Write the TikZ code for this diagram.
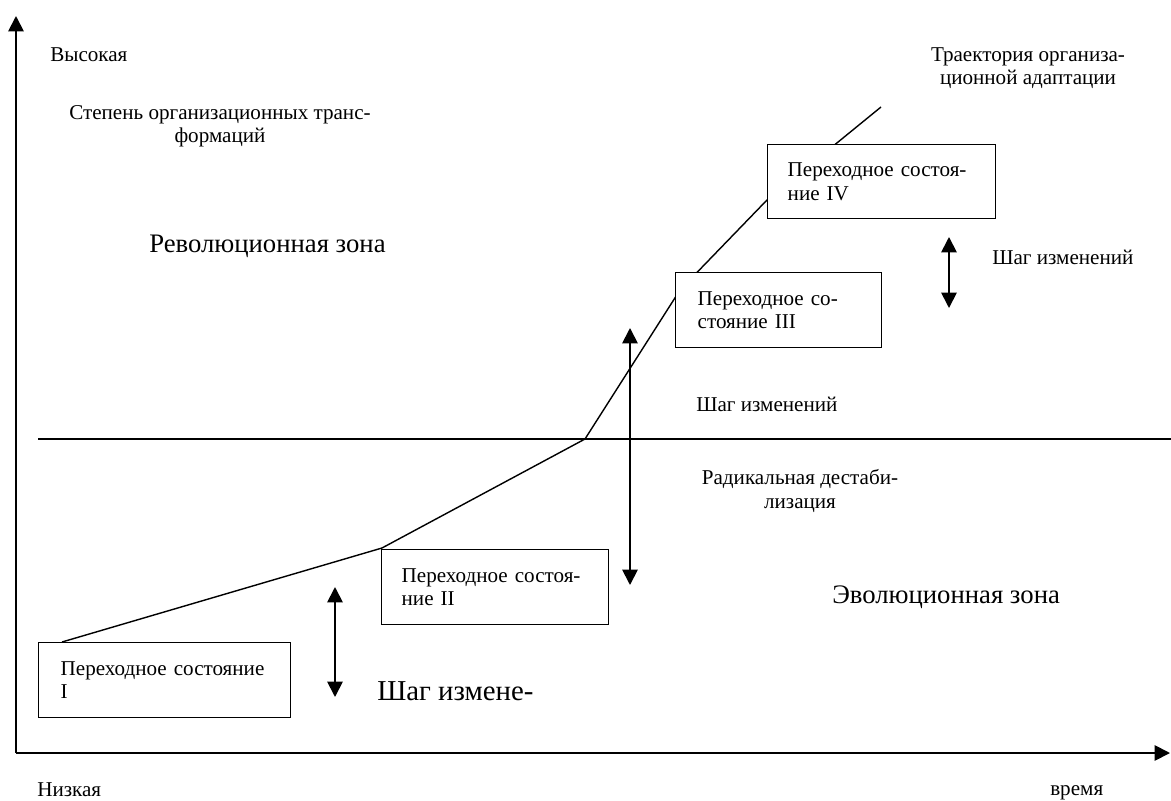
\documentclass[tikz,border=0pt]{standalone}
\usepackage{fontspec}
\setmainfont{Liberation Serif}
\usepackage{tikz}
\usetikzlibrary{arrows.meta,positioning}
\tikzstyle{state}     = [rectangle, draw=black, fill=white, line width=1pt, inner sep=0pt, anchor=north west, align=left, font=\fontsize{15}{16.7}\selectfont]
\tikzstyle{txt}       = [inner sep=0pt, anchor=base west, font=\fontsize{15}{16.7}\selectfont]
\tikzstyle{bigtxt}    = [inner sep=0pt, anchor=base west, font=\fontsize{19}{22}\selectfont]
\tikzstyle{axis}      = [line width=1.3pt, -{Triangle[length=11pt,width=11pt]}]
\tikzstyle{steparrow} = [line width=1.3pt, {Triangle[length=11pt,width=11pt]}-{Triangle[length=11pt,width=11pt]}]
\tikzstyle{track}     = [line width=1pt]

\begin{document}
\begin{tikzpicture}[x=0.025cm, y=-0.025cm]
		\useasboundingbox (0,0) rectangle (1171,801);

		\coordinate (origin) at (16,753);
		\coordinate (ytop) at (16,16);
		\coordinate (xend) at (1170,753);
		\coordinate (midwest) at (38,439);
		\coordinate (mideast) at (1171,439);

		\draw[axis] (origin) -- (ytop);
		\draw[axis] (origin) -- (xend);
		\draw[track] (midwest) -- (mideast);

		\coordinate (t0) at (62,642);
		\coordinate (t1) at (382,548);
		\coordinate (t2) at (585,439);
		\coordinate (t3) at (680,290);
		\coordinate (t4) at (767,200);
		\coordinate (t5) at (881,107);
		\draw[track] (t0) -- (t1) -- (t2) -- (t3) -- (t4) -- (t5);

		\node[state, minimum width=6.3cm, minimum height=1.875cm, text width=5.2cm] (stateI) at (38,642) {Переходное состояние\\I};
		\node[state, minimum width=5.675cm, minimum height=1.875cm, text width=4.675cm] (stateII) at (381,549) {Переходное состоя-\\ние II};
		\node[state, minimum width=5.15cm, minimum height=1.875cm, text width=4.05cm] (stateIII) at (675,272) {Переходное со-\\стояние III};
		\node[state, minimum width=5.7cm, minimum height=1.85cm, text width=4.7cm] (stateIV) at (767,144) {Переходное состоя-\\ние IV};

		\coordinate (s1a) at (335,587);
		\coordinate (s1b) at (335,697);
		\coordinate (s2a) at (630,328);
		\coordinate (s2b) at (630,585);
		\coordinate (s3a) at (949,237);
		\coordinate (s3b) at (949,308);
		\draw[steparrow] (s1a) -- (s1b);
		\draw[steparrow] (s2a) -- (s2b);
		\draw[steparrow] (s3a) -- (s3b);

		\node[txt] (high) at (50,62) {Высокая};
		\node[txt, anchor=base, align=center] (degree) at (220,143) {Степень организационных транс-\\формаций};
		\node[txt, anchor=base, align=center] (tracklabel) at (1028,85) {Траектория организа-\\ционной адаптации};
		\node[txt] (steptop) at (992,265) {Шаг изменений};
		\node[txt] (stepmid) at (696,411) {Шаг изменений};
		\node[txt, anchor=base, align=center] (radical) at (800,508) {Радикальная дестаби-\\лизация};
		\node[bigtxt] (revzone) at (149,252) {Революционная зона};
		\node[bigtxt] (evozone) at (832,603) {Эволюционная зона};
		\node[bigtxt, font=\fontsize{20.5}{23}\selectfont] (steplow) at (377,700) {Шаг измене-};
		\node[txt] (low) at (37,796) {Низкая};
		\node[txt] (time) at (1050,795) {время};
	\end{tikzpicture}
\end{document}
